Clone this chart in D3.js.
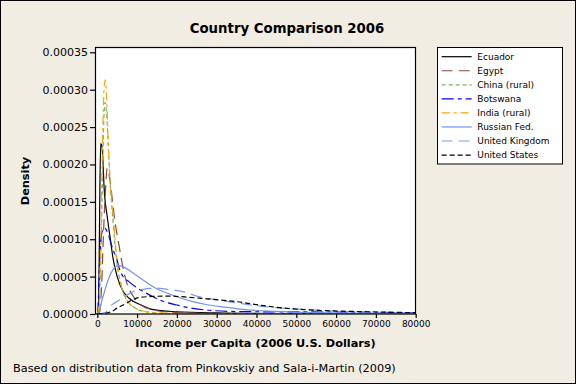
<!DOCTYPE html>
<html>
<head>
<meta charset="utf-8">
<script src="https://cdn.jsdelivr.net/npm/d3@7"></script>
<style>
  html, body { margin: 0; padding: 0; background: #f1ede2; }
  svg { display: block; }
  text { font-family: "DejaVu Sans", Verdana, sans-serif; fill: #000; }
</style>
</head>
<body>
<svg id="chart" width="576" height="384"></svg>
<script>
// ---------- data ----------
const incomeTicks  = [0, 10000, 20000, 30000, 40000, 50000, 60000, 70000, 80000];
const densityTicks = [0, 0.00005, 0.0001, 0.00015, 0.0002, 0.00025, 0.0003, 0.00035];
const countries = ["Ecuador", "Egypt", "China (rural)", "Botswana", "India (rural)",
                   "Russian Fed.", "United Kingdom", "United States"];

// [income, density]
const ecuador = [[0,0],[250,0.000005],[450,0.00006],[650,0.00017],[850,0.000228],[1100,0.000226],
  [1350,0.000212],[1700,0.00017],[2500,0.00013],[3200,0.000103],[4000,0.000073],[5000,0.00005],
  [6300,0.000032],[8000,0.000021],[11000,0.000012],[14000,0.0000058],[20000,0.000003],
  [30000,0.0000014],[45000,0.0000006],[80000,0.0000002]];
const egypt = [[0,0],[600,0.000003],[1100,0.00004],[1500,0.0001],[2000,0.00016],[2500,0.000195],
  [3000,0.000185],[3400,0.000171],[3950,0.000144],[4600,0.000118],[5450,0.000092],[6300,0.000066],
  [7500,0.00004],[9000,0.000024],[11000,0.000012],[14000,0.0000055],[18000,0.0000025],
  [25000,0.000001],[40000,0.0000003],[80000,0]];
const china = [[0,0],[500,0.000015],[900,0.00008],[1300,0.00018],[1650,0.00026],[1950,0.000283],
  [2300,0.00027],[2700,0.00023],[3200,0.00018],[4000,0.00012],[4800,0.000075],[6000,0.000038],
  [7500,0.000018],[9500,0.000008],[12000,0.000003],[16000,0.000001],[25000,0.0000002],[80000,0]];
const botswana = [[0,0],[200,0.00001],[500,0.00006],[900,0.0001],[1400,0.000113],[1900,0.000115],
  [2400,0.000111],[2800,0.000106],[3300,0.000097],[4000,0.000085],[4800,0.000075],[5700,0.000058],
  [6500,0.00005],[8000,0.000043],[10000,0.000035],[11600,0.00003],[14000,0.000023],[16500,0.000017],
  [20000,0.000012],[24000,0.0000076],[28000,0.000005],[36000,0.0000032],[50000,0.0000028],
  [65000,0.0000025],[80000,0.0000015]];
const india = [[0,0],[400,0.00001],[800,0.00008],[1100,0.00017],[1400,0.00025],[1700,0.000302],
  [2000,0.000313],[2300,0.000295],[2750,0.00023],[3200,0.000179],[4000,0.00013],[4850,0.000077],
  [6100,0.000036],[7800,0.000016],[10700,0.0000053],[15000,0.0000017],[25000,0.0000003],[80000,0]];
const russia = [[0,0],[400,0.000001],[1000,0.000015],[1700,0.000028],[2900,0.000048],[4000,0.00006],
  [5300,0.000065],[6900,0.000062],[9000,0.000055],[11500,0.0000455],[14000,0.0000365],
  [16500,0.00003],[20000,0.000023],[24000,0.0000165],[28000,0.000012],[32500,0.0000089],
  [36000,0.0000065],[45000,0.0000035],[55000,0.0000018],[65000,0.000001],[80000,0.0000004]];
const uk = [[0,0],[2000,0.000002],[3200,0.00001],[5700,0.000019],[9000,0.00003],[11500,0.000033],
  [15000,0.0000345],[17500,0.000033],[21500,0.00003],[25000,0.000024],[30000,0.000019],
  [35000,0.000015],[40000,0.000011],[45000,0.0000085],[55000,0.0000053],[70000,0.000002],
  [80000,0.0000012]];
const usa = [[0,0],[2000,0.000001],[3500,0.000003],[5000,0.000008],[6500,0.000012],[8500,0.000018],
  [10500,0.000022],[14000,0.0000235],[18000,0.000024],[22000,0.0000228],[26000,0.000021],
  [30000,0.0000192],[35000,0.0000165],[40000,0.0000125],[47000,0.0000078],[57000,0.0000045],
  [68000,0.000003],[80000,0.0000017]];

const seriesData = [ecuador, egypt, china, botswana, india, russia, uk, usa];

// ---------- styles ----------
const colors = ["#000000", "#8c4646", "#7ab55c", "#0000ff", "#ffa500", "#6f94e8", "#7a9ee8", "#000000"];
const dashes = ["none", "11,6", "4,3", "12,4,4,4", "8,4,3,4", "none", "11,6", "5,3"];

// ---------- layout ----------
const svg = d3.select("#chart");
const W = 576, H = 384;
const frame = { left: 95, right: 416, top: 47, bottom: 314 };

svg.append("rect").attr("x", 0.5).attr("y", 0.5).attr("width", W - 1).attr("height", H - 1)
  .attr("fill", "#f1ede2").attr("stroke", "#000").attr("stroke-width", 1);

const x = d3.scaleLinear().domain([0, 80000]).range([97.3, 415.7]);
const y = d3.scaleLinear().domain([0, 0.00035]).range([314, 52.3]);

svg.append("rect").attr("x", frame.left).attr("y", frame.top)
  .attr("width", frame.right - frame.left).attr("height", frame.bottom - frame.top)
  .attr("fill", "#fff");

svg.append("defs").append("clipPath").attr("id", "clip").append("rect")
  .attr("x", frame.left).attr("y", frame.top)
  .attr("width", frame.right - frame.left).attr("height", frame.bottom - frame.top);

const line = d3.line().x(d => x(d[0])).y(d => y(d[1])).curve(d3.curveMonotoneX);

const gLines = svg.append("g").attr("clip-path", "url(#clip)");
seriesData.forEach((s, i) => {
  gLines.append("path").datum(s).attr("d", line)
    .attr("fill", "none").attr("stroke", colors[i]).attr("stroke-width", 1.2)
    .attr("stroke-dasharray", dashes[i]);
});

svg.append("rect").attr("x", frame.left + 0.5).attr("y", frame.top + 0.5)
  .attr("width", frame.right - frame.left - 1).attr("height", frame.bottom - frame.top - 0.5)
  .attr("fill", "none").attr("stroke", "#000").attr("stroke-width", 1.2);

// axes
const yAxis = svg.append("g").attr("transform", `translate(${frame.left},0)`)
  .call(d3.axisLeft(y).tickValues(densityTicks).tickFormat(d3.format(".5f")).tickSize(5).tickPadding(2));
yAxis.select(".domain").remove();
yAxis.selectAll("line").attr("stroke", "#000").attr("stroke-width", 1.2);
yAxis.selectAll("text").style("font-family", "DejaVu Sans").style("font-size", "11px");

const xAxis = svg.append("g").attr("transform", `translate(0,${frame.bottom})`)
  .call(d3.axisBottom(x).tickValues(incomeTicks).tickFormat(d3.format("d")).tickSize(4).tickPadding(3));
xAxis.select(".domain").remove();
xAxis.selectAll("line").attr("stroke", "#000").attr("stroke-width", 1.2);
xAxis.selectAll("text").style("font-family", "DejaVu Sans").style("font-size", "9px");

// titles
svg.append("text").attr("x", 287).attr("y", 33).attr("text-anchor", "middle")
  .style("font-size", "13.3px").style("font-weight", "bold").text("Country Comparison 2006");
svg.append("text").attr("x", 255.5).attr("y", 347).attr("text-anchor", "middle")
  .style("font-size", "11.3px").style("font-weight", "bold").text("Income per Capita (2006 U.S. Dollars)");
svg.append("text").attr("transform", "translate(29,181) rotate(-90)").attr("text-anchor", "middle")
  .style("font-size", "11.3px").style("font-weight", "bold").text("Density");
svg.append("text").attr("x", 13).attr("y", 372)
  .style("font-size", "11.3px").text("Based on distribution data from Pinkovskiy and Sala-i-Martin (2009)");

// legend
const lg = svg.append("g");
lg.append("rect").attr("x", 437.5).attr("y", 47.5).attr("width", 125).attr("height", 116.5)
  .attr("fill", "#fff").attr("stroke", "#000").attr("stroke-width", 1);
countries.forEach((name, i) => {
  const yy = 56.7 + i * 14.05;
  lg.append("line").attr("x1", 441.7).attr("x2", 471.7).attr("y1", yy).attr("y2", yy)
    .attr("stroke", colors[i]).attr("stroke-width", 1.2).attr("stroke-dasharray", dashes[i]);
  lg.append("text").attr("x", 477.3).attr("y", yy + 3.2).style("font-size", "9px").text(name);
});
</script>
</body>
</html>
